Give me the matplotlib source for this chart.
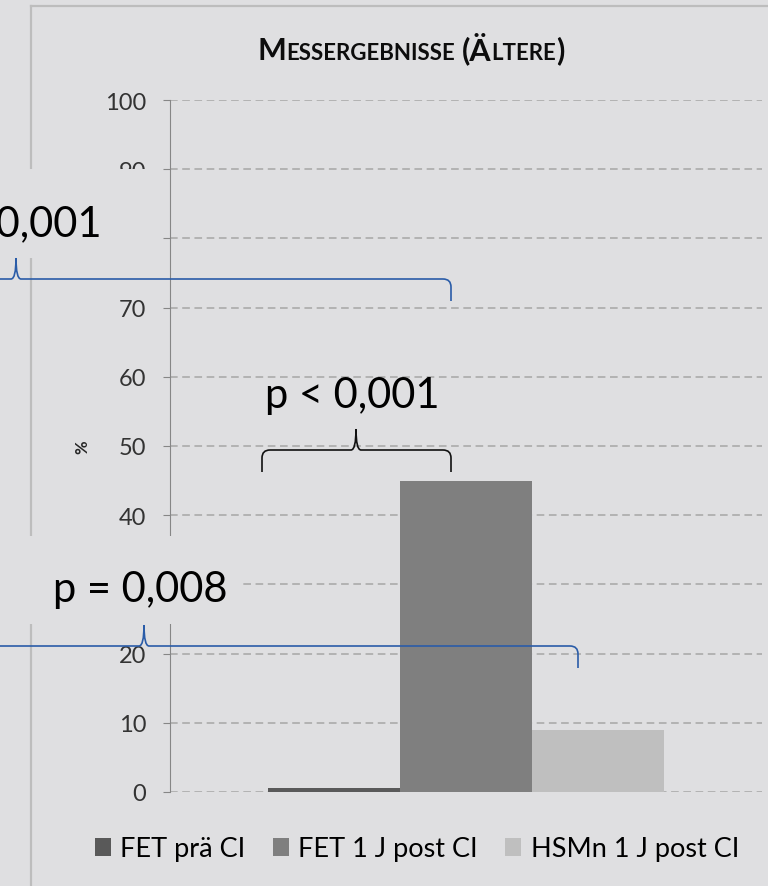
import matplotlib
matplotlib.use("Agg")
import matplotlib.pyplot as plt
from matplotlib.patches import Rectangle, PathPatch
from matplotlib.path import Path
from matplotlib.lines import Line2D
from matplotlib.transforms import Affine2D

# data
series = ["FET prä CI", "FET 1 J post CI", "HSMn 1 J post CI"]
values = [0.6, 45, 9]
colors = ["#595959", "#7f7f7f", "#bfbfbf"]
yticks = [0, 10, 20, 30, 40, 50, 60, 70, 80, 90, 100]
# 30 and 80 sit under the text boxes in the original
ylabels = ["0", "10", "20", "", "40", "50", "60", "70", "", "90", "100"]

W, H = 768, 887
BG = "#dfdfe1"
BLUE = "#2a5ca8"
plt.rcParams["font.family"] = ["Lato", "DejaVu Sans"]

fig = plt.figure(figsize=(W / 100, H / 100), dpi=100, facecolor=BG)
# pixel coordinates, y pointing down
px = Affine2D().scale(1 / W, -1 / H).translate(0, 1) + fig.transFigure

ax = fig.add_axes([170 / W, 1 - 793 / H, 592 / W, 692 / H])
ax.set_facecolor(BG)
width = 0.223
bars = []
for i, (name, val, col) in enumerate(zip(series, values, colors)):
    b = ax.bar((i - 1) * width, val, width, color=col, label=name, zorder=3)
    bars.append(b)
ax.set_xlim(-0.5, 0.5)
ax.set_ylim(0, 100)
ax.set_yticks(yticks, ylabels)
ax.set_xticks([])
ax.grid(axis="y", ls=(0, (5, 3)), color="#a6a6a6", lw=1.1)
ax.set_axisbelow(True)
for s in ["top", "right", "bottom"]:
    ax.spines[s].set_visible(False)
ax.spines["left"].set_color("#868686")
ax.tick_params(axis="y", length=5, color="#868686", pad=12,
               labelsize=17, labelcolor="#333333")

# frame of the chart area
fig.add_artist(Line2D([31, 31], [7, 887], transform=px, color="#bdbdbd", lw=1.6, zorder=1))
fig.add_artist(Line2D([31, 768], [7, 7], transform=px, color="#bdbdbd", lw=1.6, zorder=1))

# text boxes laid over the chart
fig.add_artist(Rectangle((0, 170), 162, 89, transform=px, fc=BG, ec="none", zorder=5))
fig.add_artist(Rectangle((0, 537), 241, 88, transform=px, fc=BG, ec="none", zorder=5))


def brace(x0, x1, xc, y, drop, rise, color):
    r, rc = 8, 5
    verts = [(x0, y + drop), (x0, y + r), (x0, y), (x0 + r, y),
             (xc - rc, y), (xc, y), (xc, y - rise),
             (xc, y), (xc + rc, y),
             (x1 - r, y), (x1, y), (x1, y + r), (x1, y + drop)]
    codes = [Path.MOVETO, Path.LINETO, Path.CURVE3, Path.CURVE3,
             Path.LINETO, Path.CURVE3, Path.CURVE3,
             Path.CURVE3, Path.CURVE3,
             Path.LINETO, Path.CURVE3, Path.CURVE3, Path.LINETO]
    fig.add_artist(PathPatch(Path(verts, codes), transform=px, fc="none",
                             ec=color, lw=1.2, zorder=6))


brace(262, 451, 356, 451, 22, 21, "#111111")
brace(-419, 451, 16, 280, 22, 21, BLUE)
brace(-290, 578, 144, 647, 22, 21, BLUE)

fig.text(352, 408, "p < 0,001", transform=px, ha="center", va="baseline", fontsize=30, zorder=7)
fig.text(14, 237, "p < 0,001", transform=px, ha="center", va="baseline", fontsize=30, zorder=7)
fig.text(140, 602, "p = 0,008", transform=px, ha="center", va="baseline", fontsize=30, zorder=7)

fig.text(82, 447, "%", transform=px, ha="center", va="center", rotation=90,
         fontsize=12, fontweight="bold", color="#262626")

# small caps title
pieces = [("M", 22), ("ESSERGEBNISSE", 16), (" ", 16), ("(Ä", 22), ("LTERE", 16), (")", 22)]
renderer = fig.canvas.get_renderer()
texts = []
total = 0
for s, fs in pieces:
    t = fig.text(0, 60, s, transform=px, fontsize=fs, fontweight="bold",
                 va="baseline", ha="left", color="#0d0d0d")
    w = t.get_window_extent(renderer).width
    if s == " ":
        w = 6
    texts.append((t, w))
    total += w
x = 411 - total / 2
for t, w in texts:
    t.set_x(x)
    x += w

fig.legend(handles=[b[0] for b in bars], labels=series, loc="center",
           bbox_to_anchor=(417 / W, 1 - 850 / H), ncol=3, frameon=False,
           fontsize=19.5, handlelength=0.6, handleheight=0.6,
           handletextpad=0.35, columnspacing=1.0)

fig.savefig("out.png", dpi=100, facecolor=BG)
